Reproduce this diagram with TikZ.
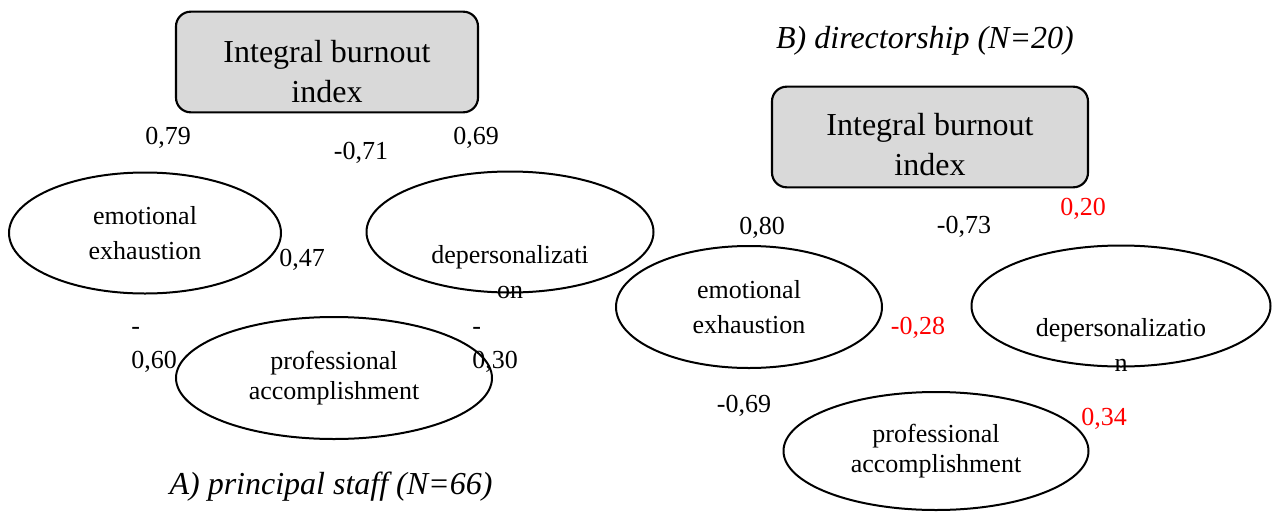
\documentclass[tikz,border=0pt]{standalone}
\usepackage{fontspec}
\setmainfont{Liberation Serif}
\usetikzlibrary{shapes.geometric}
\definecolor{boxgray}{HTML}{D9D9D9}
\begin{document}
\begin{tikzpicture}[x=0.75pt,y=-0.75pt,
 idx/.style={draw,line width=1.6pt,rounded corners=11pt,fill=boxgray,
  minimum width=#1,minimum height=75.5pt,inner sep=0pt},
 idxtxt/.style={align=center,font=\fontsize{24}{30}\selectfont,inner sep=0pt},
 ell/.style={draw,ellipse,line width=1.5pt,inner sep=0pt,align=center,
  font=\fontsize{19.5}{26.25}\selectfont},
 coef/.style={font=\fontsize{19.5}{25.5}\selectfont,inner sep=0pt},
 neg/.style={coef,align=left,anchor=west},
 capt/.style={font=\fontsize{24}{30}\selectfont\itshape,inner sep=0pt}]

 \useasboundingbox (0,0) rectangle (1272,511);

 % A) principal staff
 \node[idx=226.5pt] (ibA) at (327,62) {};
 \node[idxtxt] (ibAt) at (327,72) {Integral burnout\\index};
 \node[ell,minimum width=204pt,minimum height=90.75pt] (eeA) at (145,233) {emotional\\exhaustion};
 \node[ell,minimum width=215.25pt,minimum height=90.75pt] (dpA) at (510,232) {};
 \node[ell,inner sep=0pt,draw=none] (dpAt) at (510,272) {depersonalizati\\on};
 \node[ell,minimum width=237pt,minimum height=91.5pt,
  font=\fontsize{19.5}{22.5}\selectfont] (paA) at (334,378) {professional\\accomplishment};
 \node[coef] (cA1) at (168,138) {0,79};
 \node[coef] (cA2) at (361,153) {-0,71};
 \node[coef] (cA3) at (476,138) {0,69};
 \node[coef] (cA4) at (302,260) {0,47};
 \node[neg] (cA5) at (131,350) {-\\0,60};
 \node[neg] (cA6) at (472,350) {-\\0,30};
 \node[capt] (captA) at (331,487) {A) principal staff (N=66)};

 % B) directorship
 \node[capt] (captB) at (925,41) {B) directorship (N=20)};
 \node[idx=237pt] (ibB) at (930,137) {};
 \node[idxtxt] (ibBt) at (930,145) {Integral burnout\\index};
 \node[ell,minimum width=199.5pt,minimum height=91.5pt] (eeB) at (749,307) {emotional\\exhaustion};
 \node[ell,minimum width=224.25pt,minimum height=90.75pt] (dpB) at (1121,306) {};
 \node[ell,draw=none] (dpBt) at (1121,345) {depersonalizatio\\n};
 \node[ell,minimum width=228.75pt,minimum height=88.5pt,
  font=\fontsize{19.5}{22.5}\selectfont] (paB) at (936,451) {professional\\accomplishment};
 \node[coef] (cB1) at (762,228) {0,80};
 \node[coef] (cB2) at (964,227) {-0,73};
 \node[coef,red] (cB3) at (1083,209) {0,20};
 \node[coef,red] (cB4) at (918,328) {-0,28};
 \node[coef] (cB5) at (744,406) {-0,69};
 \node[coef,red] (cB6) at (1104,419) {0,34};
\end{tikzpicture}
\end{document}
